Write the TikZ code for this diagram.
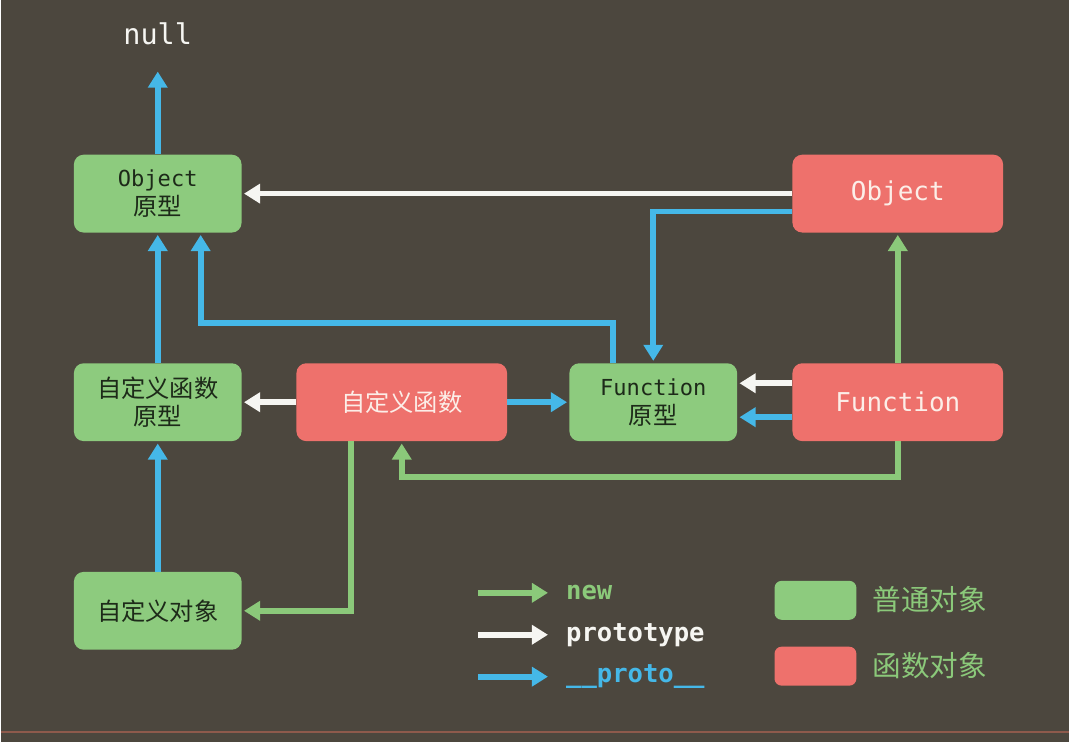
\documentclass[tikz,border=0pt]{standalone}
\usepackage{fontspec}
\setmonofont{DejaVu Sans Mono}
\newfontfamily\cjk{Noto Sans CJK SC}
\usetikzlibrary{arrows.meta,calc}

\definecolor{bgc}{HTML}{4C473E}
\definecolor{boxgreen}{HTML}{8DCB7E}
\definecolor{boxred}{HTML}{EE716C}
\definecolor{lineblue}{HTML}{45B8E8}
\definecolor{linegreen}{HTML}{8BC97A}
\definecolor{linewhite}{HTML}{F6F6F2}
\definecolor{darktext}{HTML}{1D2A19}
\definecolor{lighttext}{HTML}{FCEEE8}
\definecolor{edgered}{HTML}{8E5A4C}

\newcommand{\zh}{\cjk\fontsize{17.3}{20.5}\selectfont}

\tikzset{
	plain/.style={rounded corners=7pt, inner sep=0pt, minimum width=4.2cm, minimum height=1.95cm,
		fill=boxgreen, text=darktext, align=center, font=\ttfamily\fontsize{15.7}{20.5}\selectfont},
	func/.style={rounded corners=7pt, inner sep=0pt, minimum width=5.275cm, minimum height=1.95cm,
		fill=boxred, text=lighttext, font=\ttfamily\fontsize{18.5}{22}\selectfont},
	link/.style={line width=4.1pt, -{Triangle[width=13.5pt,length=11.5pt]}, shorten >=1.5pt},
	bynew/.style={link, draw=linegreen},
	byprototype/.style={link, draw=linewhite},
	byproto/.style={link, draw=lineblue},
	legendtext/.style={anchor=west, inner sep=0pt, font=\ttfamily\bfseries\fontsize{18.2}{22}\selectfont},
}

\begin{document}
\begin{tikzpicture}[x=0.025cm, y=-0.025cm]
	\fill[bgc] (0,0) rectangle (1070,743);
	\draw[edgered, line width=1.5pt] (0,733) -- (1070,733);

	% objects
	\node[anchor=south, inner sep=0pt, text=linewhite, font=\ttfamily\fontsize{20.3}{24}\selectfont] (null) at (157,45) {null};
	\node[plain] (objp) at (157,194) {Object\\{\zh 原型}};
	\node[plain] (cfp) at (157,403) {{\zh 自定义函数}\\{\zh 原型}};
	\node[plain] (co) at (157,612) {\zh 自定义对象};
	\node[func] (cf) at (401.5,403) {\zh 自定义函数};
	\node[plain] (fnp) at (653.5,403) {Function\\{\zh 原型}};
	\node[func] (obj) at (898.5,194) {Object};
	\node[func] (fn) at (898.5,403) {Function};

	% links
	\draw[byproto, shorten >=19pt] (objp) -- (null);
	\draw[byprototype] (obj) -- (objp);
	\draw[byproto] ($(obj.west)+(0,18)$) -| (fnp);
	\draw[byproto] ($(fnp.north)+(-40,0)$) |- ($(objp.south)+(43,90)$) -- ($(objp.south)+(43,0)$);
	\draw[byproto] (cfp) -- (objp);
	\draw[byprototype] (cf) -- (cfp);
	\draw[byproto] (cf) -- (fnp);
	\draw[byprototype] ($(fn.west)+(0,-19)$) -- ($(fnp.east)+(0,-19)$);
	\draw[byproto] ($(fn.west)+(0,15)$) -- ($(fnp.east)+(0,15)$);
	\draw[bynew] (fn) -- (obj);
	\draw[bynew] (fn.south) -- ++(0,36) -| (cf.south);
	\draw[bynew] ($(cf.south)+(-51,0)$) |- (co);
	\draw[byproto] (co) -- (cfp);

	% legend
	\coordinate (knew) at (478,594);
	\coordinate (kprototype) at (478,636);
	\coordinate (kproto) at (478,678);
	\node[legendtext, text=linegreen] (lnew) at (566,594) {new};
	\node[legendtext, text=linewhite] (lprototype) at (566,636) {prototype};
	\node[legendtext, text=lineblue] (lproto) at (566,678) {\_\_proto\_\_};
	\draw[bynew, shorten >=12.8pt] (knew) -- (lnew);
	\draw[byprototype, shorten >=12.8pt] (kprototype) -- (lprototype);
	\draw[byproto, shorten >=12.8pt] (kproto) -- (lproto);

	\node[plain, rounded corners=5pt, minimum width=2.05cm, minimum height=0.975cm] (kplain) at (816,601.5) {};
	\node[func, rounded corners=5pt, minimum width=2.05cm, minimum height=0.975cm] (kfunc) at (816,667.5) {};
	\node[anchor=west, inner sep=0pt, text=linegreen, font=\cjk\fontsize{20.4}{24}\selectfont] (lplain) at (873,601) {普通对象};
	\node[anchor=west, inner sep=0pt, text=linegreen, font=\cjk\fontsize{20.4}{24}\selectfont] (lfunc) at (873,667) {函数对象};
\end{tikzpicture}
\end{document}
